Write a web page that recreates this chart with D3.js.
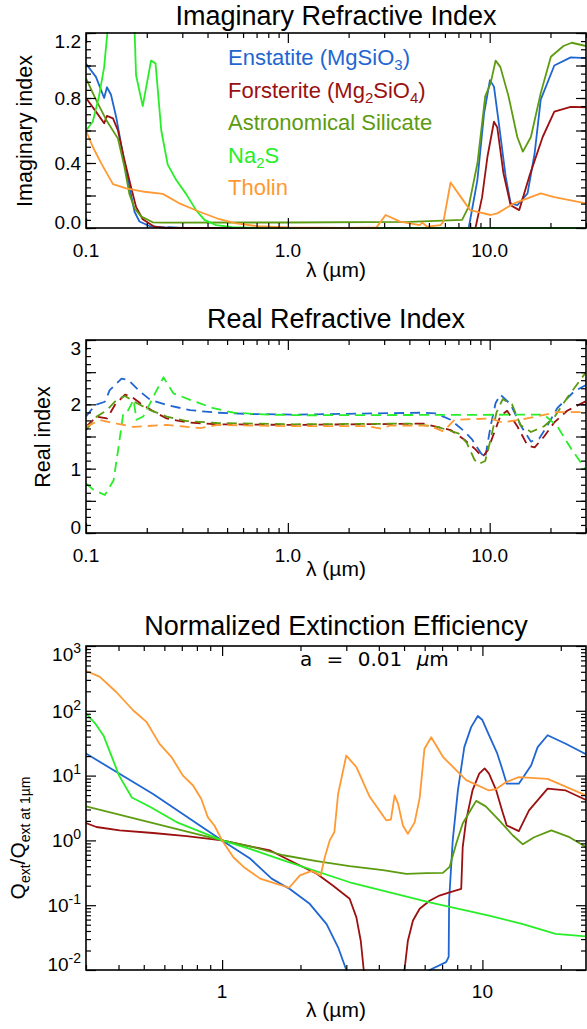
<!DOCTYPE html>
<html><head><meta charset="utf-8">
<script src="https://cdn.jsdelivr.net/npm/d3@7"></script>
<style>
body{margin:0;background:#fff;}
svg{display:block;font-family:"Liberation Sans",Arial,Helvetica,sans-serif;}
</style></head><body>
<svg id="chart" width="587" height="1029"></svg>
<script>
// ---------- categories / colours ----------
const materials = ["Enstatite", "Forsterite", "Astronomical Silicate", "Na2S", "Tholin"];
const colors = ["#1f66d1", "#9b1010", "#5c9b10", "#27ee27", "#ff9933"];

// ---------- imaginary refractive index  [wavelength µm, k] ----------
const imagEnstatite = [[0.1,1.01],[0.112,0.93],[0.123,0.80],[0.127,0.866],[0.133,0.82],[0.141,0.685],[0.152,0.46],[0.164,0.254],[0.174,0.10],[0.184,0.04],[0.206,0.012],[0.25,0.002],[0.258,0.006],[0.3,0.001],[7.87,0.0],[8.69,0.295],[9.38,0.706],[10.03,0.91],[10.5,0.87],[11.1,0.644],[12.0,0.316],[12.7,0.152],[13.7,0.14],[15.4,0.213],[16.7,0.46],[17.9,0.79],[20.9,1.0],[25.2,1.05],[30,1.045]];
const imagForsterite = [[0.1,0.80],[0.112,0.716],[0.123,0.644],[0.127,0.69],[0.136,0.675],[0.144,0.60],[0.155,0.418],[0.167,0.254],[0.177,0.13],[0.191,0.054],[0.218,0.008],[0.25,0.0],[8.5,0.0],[9.17,0.19],[9.75,0.44],[10.5,0.654],[10.9,0.62],[11.7,0.336],[12.7,0.14],[14.0,0.11],[15.7,0.316],[18.3,0.56],[20.9,0.716],[25.2,0.746],[30,0.743]];
const imagAstroSil = [[0.1,0.92],[0.112,0.79],[0.126,0.665],[0.144,0.55],[0.155,0.377],[0.164,0.21],[0.174,0.12],[0.188,0.07],[0.214,0.035],[0.24,0.033],[1.0,0.034],[4.0,0.038],[7.3,0.05],[7.86,0.13],[8.7,0.40],[9.5,0.81],[10.1,0.89],[10.7,1.03],[11.3,0.99],[12.4,0.81],[13.7,0.56],[14.6,0.47],[16.0,0.56],[17.9,0.83],[20.1,1.054],[23.2,1.12],[25.5,1.14],[30,1.12]];
const imagNa2S = [[0.1,0.60],[0.108,0.654],[0.116,0.81],[0.123,0.99],[0.128,1.22],[0.135,1.6],[0.16,1.6],[0.172,1.3],[0.174,1.22],[0.177,0.94],[0.191,0.75],[0.21,1.03],[0.221,1.013],[0.236,0.60],[0.254,0.39],[0.28,0.295],[0.313,0.21],[0.351,0.11],[0.386,0.05],[0.442,0.018],[0.53,0.005],[0.7,0.001],[30,0.0]];
const imagTholin = [[0.1,0.60],[0.108,0.50],[0.119,0.398],[0.136,0.27],[0.158,0.244],[0.195,0.223],[0.24,0.21],[0.29,0.152],[0.365,0.10],[0.458,0.054],[0.555,0.029],[0.7,0.012],[1.0,0.004],[2.0,0.001],[2.75,0.004],[3.05,0.08],[3.6,0.039],[4.5,0.018],[4.64,0.033],[4.9,0.008],[5.7,0.018],[5.9,0.039],[6.4,0.28],[7.2,0.19],[8.0,0.11],[10.1,0.08],[10.9,0.09],[13.2,0.152],[17.9,0.213],[20.9,0.19],[30,0.152]];

// ---------- real refractive index  [wavelength µm, n] ----------
const realEnstatite = [[0.1,1.81],[0.111,1.99],[0.124,2.04],[0.131,2.22],[0.15,2.40],[0.162,2.38],[0.185,2.20],[0.208,2.07],[0.251,1.99],[0.328,1.91],[0.446,1.87],[0.652,1.85],[1.07,1.84],[4.7,1.87],[5.4,1.86],[6.4,1.76],[7.5,1.58],[8.2,1.45],[9.0,1.25],[9.5,1.17],[10.1,1.66],[10.7,2.02],[11.3,2.15],[12.7,2.0],[14.2,1.68],[16.0,1.42],[17.6,1.47],[19.4,1.68],[21.6,1.94],[26.2,2.2],[30,2.3]];
const realForsterite = [[0.1,1.65],[0.113,1.81],[0.127,1.78],[0.139,1.99],[0.156,2.15],[0.168,2.12],[0.185,2.02],[0.216,1.89],[0.251,1.78],[0.315,1.72],[0.446,1.69],[1.07,1.68],[4.7,1.70],[6.4,1.60],[7.5,1.45],[8.5,1.30],[9.2,1.18],[9.75,1.28],[10.5,1.55],[11.3,1.82],[12.2,1.90],[13.7,1.66],[15.4,1.36],[16.7,1.33],[18.6,1.50],[20.9,1.72],[24.2,1.90],[30,2.05]];
const realAstroSil = [[0.1,1.60],[0.113,1.81],[0.127,1.91],[0.142,2.07],[0.156,2.13],[0.178,2.02],[0.208,1.91],[0.251,1.81],[0.315,1.74],[0.446,1.71],[1.07,1.69],[4.0,1.70],[5.5,1.65],[7.0,1.55],[7.7,1.40],[8.4,1.14],[8.8,1.07],[9.5,1.12],[10.1,1.45],[10.8,1.87],[11.6,2.08],[12.9,2.0],[14.2,1.68],[16.0,1.57],[18.6,1.66],[20.9,1.80],[24.2,2.1],[30,2.5]];
const realNa2S = [[0.1,0.77],[0.109,0.67],[0.124,0.59],[0.137,0.82],[0.145,1.34],[0.153,1.86],[0.162,1.91],[0.172,2.07],[0.178,1.76],[0.192,1.81],[0.208,2.02],[0.224,2.22],[0.242,2.42],[0.271,2.17],[0.328,2.07],[0.428,1.94],[0.538,1.87],[0.8,1.84],[1.2,1.83],[18.6,1.84],[21.6,1.66],[25.2,1.32],[30,0.98]];
const realTholin = [[0.1,1.65],[0.117,1.755],[0.142,1.70],[0.172,1.65],[0.251,1.68],[0.368,1.63],[0.446,1.68],[1.07,1.66],[2.5,1.66],[2.9,1.62],[3.2,1.67],[5.0,1.67],[5.9,1.58],[6.7,1.76],[10.1,1.78],[11.5,1.72],[14.2,1.76],[17.6,1.82],[21.6,1.88],[30,1.88]];

// ---------- normalized extinction efficiency  [wavelength µm, Qext/Qext(1µm)] ----------
const qextEnstatite = [[0.3,21.9],[0.543,5.2],[1,1],[1.28,0.525],[1.55,0.257],[1.82,0.178],[2.17,0.105],[2.52,0.051],[2.79,0.0224],[3.0,0.01],[3.1,0.004],[6.0,0.004],[6.27,0.01],[7.25,0.0132],[7.42,0.016],[7.45,0.12],[7.69,1.0],[8.05,5.9],[8.52,27.5],[9.05,56],[9.6,83],[10.0,72],[10.6,42],[11.4,22],[11.9,12.9],[12.4,7.5],[13.8,7.5],[15.4,14.5],[16.3,27.5],[17.8,42],[20.9,31],[25,21.4]];
const qextForsterite = [[0.3,1.85],[0.329,1.61],[0.404,1.43],[0.543,1.30],[0.73,1.16],[1,1],[1.28,0.81],[1.53,0.70],[1.72,0.55],[1.99,0.41],[2.31,0.305],[2.67,0.20],[3.09,0.126],[3.28,0.065],[3.41,0.028],[3.5,0.01],[3.6,0.003],[4.9,0.003],[5.02,0.01],[5.17,0.028],[5.41,0.058],[5.74,0.088],[6.27,0.117],[6.84,0.141],[7.48,0.158],[8.29,0.178],[8.4,0.79],[8.66,2.04],[9.16,5.9],[9.72,10.7],[10.2,12.9],[10.6,10.7],[11.3,5.9],[11.9,2.9],[12.4,1.70],[13.8,1.39],[15.1,2.9],[17.8,6.3],[20.9,5.9],[25,4.2]];
const qextAstroSil = [[0.3,3.35],[1,1],[1.28,0.81],[1.72,0.59],[2.31,0.48],[3.09,0.40],[4.15,0.347],[5.1,0.305],[6.09,0.313],[7.05,0.316],[7.48,0.39],[7.93,0.89],[8.4,1.82],[8.92,2.75],[9.46,4.07],[10.3,3.35],[11.6,2.04],[13.1,1.19],[14.3,0.87],[15.8,1.12],[18.4,1.43],[21.6,1.12],[25,0.79]];
const qextNa2S = [[0.3,91],[0.325,64],[0.35,41.7],[0.377,19.5],[0.402,10],[0.45,4.6],[0.53,3.27],[0.668,1.92],[0.82,1.38],[1,1],[1.28,0.74],[1.72,0.49],[3.09,0.226],[6.27,0.111],[10.6,0.069],[14.3,0.051],[19.1,0.036],[25,0.033]];
const qextTholin = [[0.3,414],[0.339,334],[0.392,195],[0.455,102],[0.512,67.6],[0.575,30.9],[0.638,19.5],[0.707,10],[0.772,7.1],[0.831,4.4],[0.881,2.29],[0.934,1.70],[1,1],[1.105,0.55],[1.21,0.39],[1.40,0.257],[1.62,0.214],[1.81,0.186],[1.99,0.288],[2.21,0.339],[2.39,0.288],[2.48,0.55],[2.59,1.0],[2.7,1.35],[2.79,5.2],[3.0,20.4],[3.28,13.5],[3.69,4.7],[4.27,2.04],[4.45,2.09],[4.6,4.95],[4.74,3.69],[4.95,1.70],[5.17,1.26],[5.49,1.9],[5.74,4.5],[5.99,26],[6.36,39],[7.05,19.5],[8.66,8.5],[10.6,5.9],[11.3,6.2],[12.3,7.9],[13.8,9.5],[17.8,8.9],[25,4.95]];

// ---------- tick labels ----------
const waveTicks = [0.1, 1, 10];
const waveTickLabels = ["0.1", "1.0", "10.0"];
const imagTicks = [0, 0.4, 0.8, 1.2];
const imagTickLabels = ["0.0", "0.4", "0.8", "1.2"];
const realTicks = [0, 1, 2, 3];
const realTickLabels = ["0", "1", "2", "3"];
const qextWaveTicks = [1, 10];
const qextWaveTickLabels = ["1", "10"];
const qextExponents = [-2, -1, 0, 1, 2, 3];

// ---------- drawing ----------
const svg = d3.select("#chart");
const L = 86, R = 586;
const tickFont = 19;

function logMinors(lo, hi) {
  const out = [];
  for (let e = Math.floor(Math.log10(lo)); e <= Math.ceil(Math.log10(hi)); e++)
    for (let m = 1; m <= 9; m++) { const v = m * Math.pow(10, e); if (v >= lo * 0.999 && v <= hi * 1.001) out.push(v); }
  return out;
}

function panel(cfg) {
  const x = d3.scaleLog().domain(cfg.xDomain).range([L, R]);
  const y = (cfg.yLog ? d3.scaleLog() : d3.scaleLinear()).domain(cfg.yDomain).range([cfg.bottom, cfg.top]);
  const cid = "clip" + cfg.id;
  svg.append("clipPath").attr("id", cid).append("rect")
    .attr("x", L).attr("y", cfg.top - 1).attr("width", R - L).attr("height", cfg.bottom - cfg.top + 2);
  const g = svg.append("g").attr("clip-path", `url(#${cid})`);
  const line = d3.line().x(d => x(d[0])).y(d => y(d[1]));
  cfg.series.forEach((s, i) => {
    g.append("path").attr("d", line(s)).attr("fill", "none").attr("stroke", colors[i])
      .attr("stroke-width", 1.8).attr("stroke-linejoin", "round")
      .attr("stroke-dasharray", cfg.dash || null);
  });
  svg.append("rect").attr("x", L).attr("y", cfg.top).attr("width", R - L).attr("height", cfg.bottom - cfg.top)
    .attr("fill", "none").attr("stroke", "#000").attr("stroke-width", 1.6);

  function ticks(axisFn, scale, vals, size, tr) {
    svg.append("g").attr("transform", tr)
      .call(axisFn(scale).tickValues(vals).tickSize(-size).tickFormat(""))
      .call(a => a.select(".domain").remove())
      .selectAll("line").attr("stroke", "#000").attr("stroke-width", 1.2);
  }
  ticks(d3.axisBottom, x, cfg.xMajor, 10, `translate(0,${cfg.bottom})`);
  ticks(d3.axisBottom, x, cfg.xMinor, 5, `translate(0,${cfg.bottom})`);
  ticks(d3.axisTop, x, cfg.xMajor, 10, `translate(0,${cfg.top})`);
  ticks(d3.axisTop, x, cfg.xMinor, 5, `translate(0,${cfg.top})`);
  ticks(d3.axisLeft, y, cfg.yMajor, 10, `translate(${L},0)`);
  ticks(d3.axisLeft, y, cfg.yMinor, 5, `translate(${L},0)`);
  ticks(d3.axisRight, y, cfg.yMajor, 10, `translate(${R},0)`);
  ticks(d3.axisRight, y, cfg.yMinor, 5, `translate(${R},0)`);

  cfg.xLabVals.forEach((v, i) => {
    svg.append("text").attr("x", x(v)).attr("y", cfg.xLabY).attr("text-anchor", "middle")
      .attr("font-size", tickFont).text(cfg.xLabs[i]);
  });
  cfg.yLabVals.forEach((v, i) => {
    const yy = Math.min(Math.max(y(v), cfg.top + 8), cfg.bottom - 6);
    const t = svg.append("text").attr("x", 81).attr("y", yy).attr("dy", "0.36em")
      .attr("text-anchor", "end").attr("font-size", tickFont);
    if (cfg.yLog) {
      t.append("tspan").text("10");
      t.append("tspan").attr("dy", -8).attr("font-size", 14).text(cfg.yLabs[i]);
    } else t.text(cfg.yLabs[i]);
  });
  svg.append("text").attr("x", (L + R) / 2).attr("y", cfg.titleY).attr("text-anchor", "middle")
    .attr("font-size", 27).text(cfg.title);
  svg.append("text").attr("x", (L + R) / 2).attr("y", cfg.xTitleY).attr("text-anchor", "middle")
    .attr("font-size", 21).text("λ (µm)");
  return { x, y };
}

panel({
  id: 1, top: 33, bottom: 228, xDomain: [0.1, 30], yDomain: [0, 1.2],
  series: [imagEnstatite, imagForsterite, imagAstroSil, imagNa2S, imagTholin],
  xMajor: waveTicks, xMinor: logMinors(0.1, 30).filter(v => !waveTicks.includes(v)),
  yMajor: d3.range(0, 1.21, 0.2), yMinor: d3.range(0, 1.21, 0.05),
  xLabVals: waveTicks, xLabs: waveTickLabels, xLabY: 257,
  yLabVals: imagTicks, yLabs: imagTickLabels,
  title: "Imaginary Refractive Index", titleY: 25, xTitleY: 277
});
panel({
  id: 2, top: 340, bottom: 533, xDomain: [0.1, 30], yDomain: [0, 3],
  series: [realEnstatite, realForsterite, realAstroSil, realNa2S, realTholin], dash: "10,6",
  xMajor: waveTicks, xMinor: logMinors(0.1, 30).filter(v => !waveTicks.includes(v)),
  yMajor: d3.range(0, 3.01, 0.5), yMinor: d3.range(0, 3.01, 0.125),
  xLabVals: waveTicks, xLabs: waveTickLabels, xLabY: 562,
  yLabVals: realTicks, yLabs: realTickLabels,
  title: "Real Refractive Index", titleY: 328, xTitleY: 576
});
panel({
  id: 3, top: 646, bottom: 970, xDomain: [0.3, 25], yDomain: [0.01, 1000], yLog: true,
  series: [qextEnstatite, qextForsterite, qextAstroSil, qextNa2S, qextTholin],
  xMajor: qextWaveTicks, xMinor: logMinors(0.3, 25).filter(v => !qextWaveTicks.includes(v)),
  yMajor: qextExponents.map(e => Math.pow(10, e)),
  yMinor: logMinors(0.01, 1000).filter(v => !qextExponents.map(e => Math.pow(10, e)).some(p => Math.abs(p - v) < 1e-9)),
  xLabVals: qextWaveTicks, xLabs: qextWaveTickLabels, xLabY: 998,
  yLabVals: qextExponents.map(e => Math.pow(10, e)), yLabs: qextExponents.map(String),
  title: "Normalized Extinction Efficiency", titleY: 635, xTitleY: 1017
});

// y-axis titles
svg.append("text").attr("transform", "translate(32,131) rotate(-90)").attr("text-anchor", "middle")
  .attr("font-size", 21.5).text("Imaginary index");
svg.append("text").attr("transform", "translate(50,437) rotate(-90)").attr("text-anchor", "middle")
  .attr("font-size", 21.5).text("Real index");
const qt = svg.append("text").attr("transform", "translate(25,838) rotate(-90)").attr("text-anchor", "middle")
  .attr("font-size", 21);
qt.append("tspan").text("Q");
qt.append("tspan").attr("dy", 5).attr("font-size", 14).text("ext");
qt.append("tspan").attr("dy", -5).text("/Q");
qt.append("tspan").attr("dy", 5).attr("font-size", 14).text("ext at 1µm");

// legend
const legendLabels = [
  [["Enstatite (MgSiO", 0], ["3", 1], [")", 0]],
  [["Forsterite (Mg", 0], ["2", 1], ["SiO", 0], ["4", 1], [")", 0]],
  [["Astronomical Silicate", 0]],
  [["Na", 0], ["2", 1], ["S", 0]],
  [["Tholin", 0]]
];
legendLabels.forEach((parts, i) => {
  const t = svg.append("text").attr("x", 228).attr("y", 65 + i * 32.5).attr("font-size", 22).attr("fill", colors[i]);
  let sub = false;
  parts.forEach(([s, isSub]) => {
    const ts = t.append("tspan").text(s);
    if (isSub && !sub) { ts.attr("dy", 5).attr("font-size", 15); sub = true; }
    else if (!isSub && sub) { ts.attr("dy", -5); sub = false; }
    else if (isSub) ts.attr("font-size", 15);
  });
});

// annotation
const ann = svg.append("text").attr("x", 300).attr("y", 666).attr("font-size", 20)
  .attr("font-family", "'DejaVu Sans', sans-serif").attr("fill", "#000").attr("word-spacing", 8);
ann.append("tspan").text("a = 0.01 ");
ann.append("tspan").attr("font-style", "italic").text("µ");
ann.append("tspan").text("m");
</script>
</body></html>
